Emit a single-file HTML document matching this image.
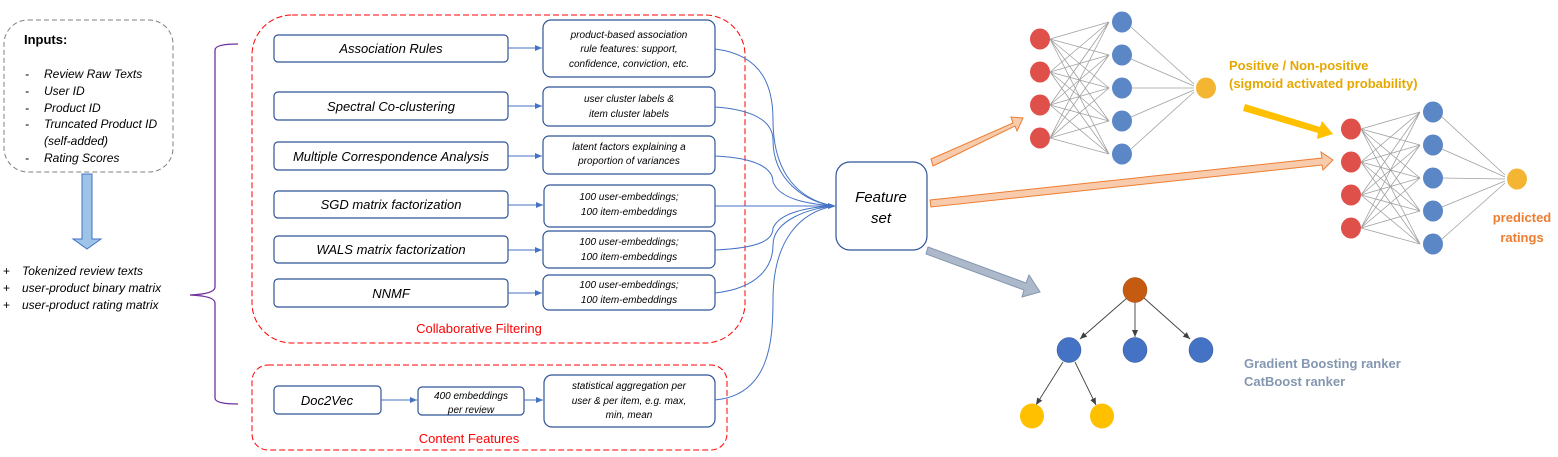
<!DOCTYPE html>
<html><head><meta charset="utf-8"><style>
html,body{margin:0;padding:0;background:#fff;}
svg{display:block;font-family:"Liberation Sans",sans-serif;}
</style></head><body>
<svg width="1558" height="457" viewBox="0 0 1558 457" xmlns="http://www.w3.org/2000/svg">
<defs>
<marker id="ab" markerWidth="8" markerHeight="8" refX="7" refY="4" orient="auto" markerUnits="userSpaceOnUse"><path d="M0,1 L7,4 L0,7 z" fill="#4472c4"/></marker>
<marker id="ad" markerWidth="8" markerHeight="8" refX="7" refY="4" orient="auto" markerUnits="userSpaceOnUse"><path d="M0,1 L7,4 L0,7 z" fill="#404040"/></marker>
</defs>

<rect x="4" y="20" width="169" height="152" rx="24" fill="none" stroke="#808080" stroke-dasharray="5,3"/>
<text x="24" y="44" font-size="13" font-weight="bold">Inputs:</text>
<g font-size="12" font-style="italic">
<text x="25" y="78">-</text><text x="44" y="78">Review Raw Texts</text>
<text x="25" y="95">-</text><text x="44" y="95">User ID</text>
<text x="25" y="112">-</text><text x="44" y="112">Product ID</text>
<text x="25" y="128">-</text><text x="44" y="128">Truncated Product ID</text>
<text x="44" y="145">(self-added)</text>
<text x="25" y="162">-</text><text x="44" y="162">Rating Scores</text>
</g>
<path d="M82,174 H92 V239 H101 L87,249 L73,239 H82 Z" fill="#9dc3e6" stroke="#4472c4" stroke-width="1"/>
<g font-size="12" font-style="italic">
<text x="3" y="275" font-style="normal">+</text><text x="22" y="275">Tokenized review texts</text>
<text x="3" y="292" font-style="normal">+</text><text x="22" y="292">user-product binary matrix</text>
<text x="3" y="309" font-style="normal">+</text><text x="22" y="309">user-product rating matrix</text>
</g>
<path d="M238,44 Q215,44 215,50 V287 Q215,294 190,295 Q215,296 215,303 V398 Q215,404 238,404" fill="none" stroke="#7030a0" stroke-width="1.3"/>

<rect x="252" y="15" width="493" height="328" rx="40" fill="none" stroke="#ff0000" stroke-dasharray="6,3"/>
<text x="479" y="333" font-size="13" fill="#ff0000" text-anchor="middle">Collaborative Filtering</text>
<rect x="252" y="365" width="475" height="85" rx="16" fill="none" stroke="#ff0000" stroke-dasharray="6,3"/>
<text x="469" y="443" font-size="13" fill="#ff0000" text-anchor="middle">Content Features</text>

<g fill="#fff" stroke="#2f5597" stroke-width="1.2">
<rect x="274" y="35" width="234" height="27" rx="4"/>
<rect x="274" y="92" width="234" height="28" rx="4"/>
<rect x="274" y="142" width="234" height="28" rx="4"/>
<rect x="274" y="191" width="234" height="27" rx="4"/>
<rect x="274" y="236" width="234" height="27" rx="4"/>
<rect x="274" y="279" width="234" height="28" rx="4"/>
<rect x="274" y="386" width="107" height="28" rx="4"/>
<rect x="418" y="387" width="106" height="28" rx="4"/>
<rect x="543" y="20" width="172" height="57" rx="8"/>
<rect x="543" y="87" width="172" height="39" rx="6"/>
<rect x="543" y="136" width="172" height="38" rx="6"/>
<rect x="544" y="185" width="171" height="42" rx="6"/>
<rect x="543" y="231" width="172" height="37" rx="6"/>
<rect x="543" y="275" width="172" height="35" rx="6"/>
<rect x="544" y="375" width="171" height="52" rx="8"/>
<rect x="836" y="162" width="91" height="88" rx="14"/>
</g>
<g font-size="13" font-style="italic" text-anchor="middle">
<text x="391" y="53">Association Rules</text>
<text x="391" y="111">Spectral Co-clustering</text>
<text x="391" y="161">Multiple Correspondence Analysis</text>
<text x="391" y="209">SGD matrix factorization</text>
<text x="391" y="254">WALS matrix factorization</text>
<text x="391" y="298">NNMF</text>
<text x="327" y="405">Doc2Vec</text>
<text x="881" y="202" font-size="15">Feature</text>
<text x="881" y="223" font-size="15">set</text>
</g>
<g font-size="10" font-style="italic" text-anchor="middle">
<text x="629" y="38">product-based association</text>
<text x="629" y="52">rule features: support,</text>
<text x="629" y="67">confidence, conviction, etc.</text>
<text x="629" y="102">user cluster labels &amp;</text>
<text x="629" y="117">item cluster labels</text>
<text x="629" y="150">latent factors explaining a</text>
<text x="629" y="164">proportion of variances</text>
<text x="629" y="200">100 user-embeddings;</text>
<text x="629" y="215">100 item-embeddings</text>
<text x="629" y="245">100 user-embeddings;</text>
<text x="629" y="260">100 item-embeddings</text>
<text x="629" y="288">100 user-embeddings;</text>
<text x="629" y="303">100 item-embeddings</text>
<text x="471" y="399">400 embeddings</text>
<text x="471" y="413">per review</text>
<text x="629" y="389">statistical aggregation per</text>
<text x="629" y="404">user &amp; per item, e.g. max,</text>
<text x="629" y="418">min, mean</text>
</g>
<g stroke="#4472c4" stroke-width="1" fill="none" marker-end="url(#ab)">
<path d="M508,48 H542"/><path d="M508,106 H542"/><path d="M508,156 H542"/>
<path d="M508,205 H543"/><path d="M508,250 H542"/><path d="M508,293 H542"/>
<path d="M381,400 H417"/><path d="M524,400 H543"/>
</g>
<g stroke="#4472c4" stroke-width="1" fill="none">
<path d="M715,49 C765,55 773,90 773,120 C773,175 800,200 834,206"/>
<path d="M715,107 C760,110 773,125 773,140 C773,180 805,202 834,206"/>
<path d="M715,156 C760,158 773,170 773,182 C780,200 810,204 834,206"/>
<path d="M715,206 H834"/>
<path d="M715,250 C760,248 773,240 773,228 C780,212 810,207 834,206"/>
<path d="M715,293 C760,288 773,265 773,245 C773,220 810,208 834,206"/>
<path d="M715,400 C770,395 773,340 773,300 C773,240 800,212 834,206"/>
</g>
<path d="M828,203 L836,206 L828,209 Z" fill="#4472c4"/>

<polygon points="931,159 1013,123 1011,117 1023,118 1017,131 1015,126 933,166" fill="#f8cbad" stroke="#ed7d31" stroke-width="1"/>
<polygon points="930,200 1322,158 1321,152 1333,160 1323,170 1322,165 931,207" fill="#f8cbad" stroke="#ed7d31" stroke-width="1"/>
<polygon points="1245,104 1320,127 1322,121 1333,134 1317,139 1318,133 1243,111" fill="#ffc000"/>
<polygon points="928,247 1026,283 1029,275 1040,292 1022,297 1024,290 926,254" fill="#adb9ca" stroke="#8497b0" stroke-width="1"/>

<path stroke="#a0a0a0" stroke-width="0.8" fill="none" d="
M1050,39 L1109,22 M1050,39 L1109,55 M1050,39 L1109,88 M1050,39 L1109,121 M1050,39 L1109,154
M1050,72 L1109,22 M1050,72 L1109,55 M1050,72 L1109,88 M1050,72 L1109,121 M1050,72 L1109,154
M1050,105 L1109,22 M1050,105 L1109,55 M1050,105 L1109,88 M1050,105 L1109,121 M1050,105 L1109,154
M1050,138 L1109,22 M1050,138 L1109,55 M1050,138 L1109,88 M1050,138 L1109,121 M1050,138 L1109,154
M1131,27 L1194,84 M1131,59 L1194,86 M1131,88 L1194,88 M1131,117 L1194,90 M1131,149 L1194,92
M1361,129 L1420,112 M1361,129 L1420,145 M1361,129 L1420,178 M1361,129 L1420,211 M1361,129 L1420,244
M1361,162 L1420,112 M1361,162 L1420,145 M1361,162 L1420,178 M1361,162 L1420,211 M1361,162 L1420,244
M1361,195 L1420,112 M1361,195 L1420,145 M1361,195 L1420,178 M1361,195 L1420,211 M1361,195 L1420,244
M1361,228 L1420,112 M1361,228 L1420,145 M1361,228 L1420,178 M1361,228 L1420,211 M1361,228 L1420,244
M1442,117 L1505,175 M1442,149 L1505,177 M1442,178 L1505,179 M1442,207 L1505,181 M1442,239 L1505,183"/>
<g fill="#e0504a">
<ellipse cx="1040" cy="39" rx="10" ry="10.5"/><ellipse cx="1040" cy="72" rx="10" ry="10.5"/>
<ellipse cx="1040" cy="105" rx="10" ry="10.5"/><ellipse cx="1040" cy="138" rx="10" ry="10.5"/>
<ellipse cx="1351" cy="129" rx="10" ry="10.5"/><ellipse cx="1351" cy="162" rx="10" ry="10.5"/>
<ellipse cx="1351" cy="195" rx="10" ry="10.5"/><ellipse cx="1351" cy="228" rx="10" ry="10.5"/>
</g>
<g fill="#5b87c7">
<ellipse cx="1122" cy="22" rx="10" ry="10.5"/><ellipse cx="1122" cy="55" rx="10" ry="10.5"/>
<ellipse cx="1122" cy="88" rx="10" ry="10.5"/><ellipse cx="1122" cy="121" rx="10" ry="10.5"/>
<ellipse cx="1122" cy="154" rx="10" ry="10.5"/>
<ellipse cx="1433" cy="112" rx="10" ry="10.5"/><ellipse cx="1433" cy="145" rx="10" ry="10.5"/>
<ellipse cx="1433" cy="178" rx="10" ry="10.5"/><ellipse cx="1433" cy="211" rx="10" ry="10.5"/>
<ellipse cx="1433" cy="244" rx="10" ry="10.5"/>
</g>
<ellipse cx="1206" cy="88" rx="10" ry="10.5" fill="#f4b533"/>
<ellipse cx="1517" cy="179" rx="10" ry="10.5" fill="#f4b533"/>
<g font-size="13" font-weight="bold">
<text x="1229" y="70" fill="#e6a700">Positive / Non-positive</text>
<text x="1229" y="88" fill="#e6a700">(sigmoid activated probability)</text>
<text x="1522" y="222" fill="#ed7d31" text-anchor="middle">predicted</text>
<text x="1522" y="242" fill="#ed7d31" text-anchor="middle">ratings</text>
<text x="1244" y="368" fill="#8497b0">Gradient Boosting ranker</text>
<text x="1244" y="386" fill="#8497b0">CatBoost ranker</text>
</g>

<g stroke="#404040" stroke-width="0.9" fill="none" marker-end="url(#ad)">
<path d="M1127,298 L1080,339"/><path d="M1135,302 L1135,337"/><path d="M1144,298 L1190,339"/>
<path d="M1063,362 L1036,405"/><path d="M1075,362 L1096,405"/>
</g>
<ellipse cx="1135" cy="290" rx="12" ry="12.5" fill="#c55a11" stroke="#a04a0e" stroke-width="0.5"/>
<g fill="#4472c4" stroke="#2f5597" stroke-width="0.5">
<ellipse cx="1069" cy="350" rx="12" ry="12.5"/><ellipse cx="1135" cy="350" rx="12" ry="12.5"/><ellipse cx="1201" cy="350" rx="12" ry="12.5"/>
</g>
<ellipse cx="1032" cy="416" rx="12" ry="12.5" fill="#ffc000"/>
<ellipse cx="1102" cy="416" rx="12" ry="12.5" fill="#ffc000"/>
</svg>
</body></html>
